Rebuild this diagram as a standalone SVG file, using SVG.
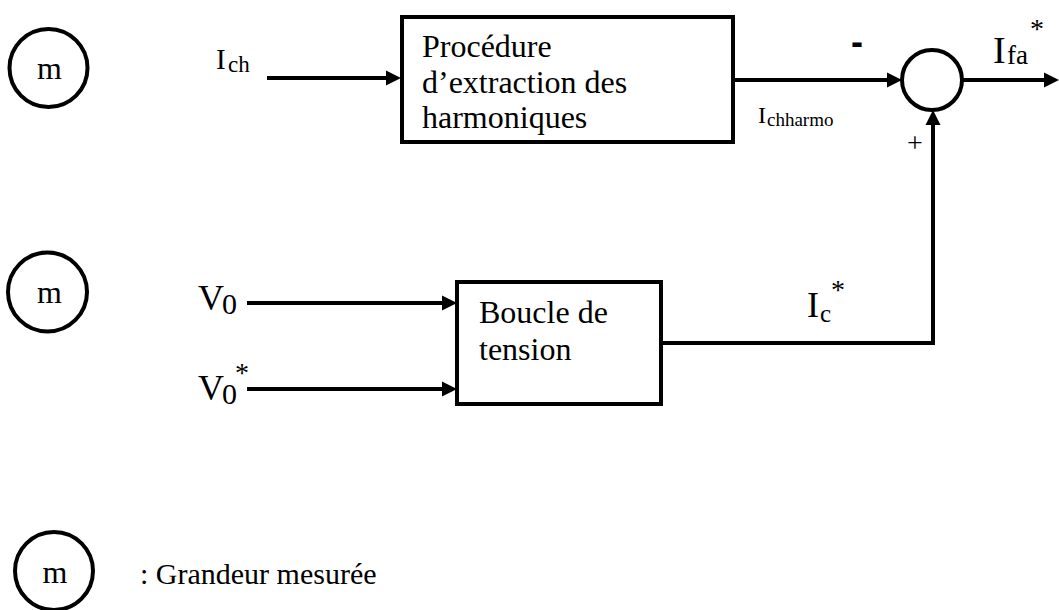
<svg xmlns="http://www.w3.org/2000/svg" width="1059" height="610" viewBox="0 0 1059 610">
  <style>
    .box { fill: #fff; stroke: #000; stroke-width: 4; }
    .ring { fill: none; stroke: #000; stroke-width: 4; }
    .wire { fill: none; stroke: #000; stroke-width: 4; }
  </style>
  <defs>
    <marker id="arrow" markerUnits="userSpaceOnUse" markerWidth="16" markerHeight="16" refX="11" refY="8" orient="auto">
      <path d="M0,0.5 L15,8 L0,15.5 z" fill="#000"/>
    </marker>
  </defs>

  <rect width="1059" height="610" fill="#fff"/>

  <g font-family="'Liberation Serif', 'Times New Roman', Times, serif" fill="#000">
    <!-- measured-quantity markers -->
    <g id="measure-1">
      <circle class="ring" cx="48.5" cy="68" r="39"/>
      <text x="49.5" y="79" font-size="32" text-anchor="middle">m</text>
    </g>
    <g id="measure-2">
      <circle class="ring" cx="47.5" cy="292" r="39.5"/>
      <text x="49.5" y="303" font-size="32" text-anchor="middle">m</text>
    </g>

    <!-- connectors -->
    <g id="connectors">
      <line class="wire" x1="267" y1="78" x2="397" y2="78" marker-end="url(#arrow)"/>
      <line class="wire" x1="733" y1="80" x2="898" y2="80" marker-end="url(#arrow)"/>
      <line class="wire" x1="962" y1="80" x2="1055" y2="80" marker-end="url(#arrow)"/>
      <polyline class="wire" points="661,343 933,343 933,114" marker-end="url(#arrow)"/>
      <line class="wire" x1="247" y1="303" x2="453" y2="303" marker-end="url(#arrow)"/>
      <line class="wire" x1="247" y1="389" x2="453" y2="389" marker-end="url(#arrow)"/>
    </g>

    <!-- harmonic extraction block -->
    <g id="extraction">
      <rect class="box" x="402" y="17" width="331" height="125"/>
      <text font-size="32">
        <tspan x="422" y="57">Procédure</tspan>
        <tspan x="422" y="93">d’extraction des</tspan>
        <tspan x="422" y="128">harmoniques</tspan>
      </text>
    </g>

    <!-- voltage loop block -->
    <g id="voltage-loop">
      <rect class="box" x="457" y="282" width="204" height="122"/>
      <text font-size="32">
        <tspan x="479" y="323">Boucle de</tspan>
        <tspan x="479" y="360">tension</tspan>
      </text>
    </g>

    <!-- summing junction -->
    <g id="sum">
      <circle class="ring" cx="932" cy="80" r="30"/>
      <text x="851" y="54" font-family="'Liberation Sans', Arial, sans-serif" font-weight="bold" font-size="36">-</text>
      <text x="915" y="152" font-size="28" text-anchor="middle">+</text>
    </g>

    <!-- signal labels -->
    <g id="labels">
      <text><tspan x="216" y="69" font-size="29">I</tspan><tspan x="228" y="72" font-size="23">ch</tspan></text>
      <text><tspan x="758" y="123" font-size="24">I</tspan><tspan x="767" y="126" font-size="19">chharmo</tspan></text>
      <text><tspan x="993" y="63" font-size="38">I</tspan><tspan x="1007" y="64" font-size="27">fa</tspan><tspan x="1030" y="38" font-size="28">*</tspan></text>
      <text><tspan x="807" y="317" font-size="36">I</tspan><tspan x="820" y="322" font-size="25">c</tspan><tspan x="831" y="299" font-size="28">*</tspan></text>
      <text><tspan x="198" y="310" font-size="36">V</tspan><tspan x="222" y="314" font-size="30">0</tspan></text>
      <text><tspan x="198" y="400" font-size="36">V</tspan><tspan x="222" y="404" font-size="30">0</tspan><tspan x="235" y="382" font-size="28">*</tspan></text>
    </g>

    <!-- legend -->
    <g id="legend">
      <circle class="ring" cx="54" cy="571" r="39"/>
      <text x="55" y="583" font-size="32" text-anchor="middle">m</text>
      <text x="140" y="584" font-size="30">: Grandeur mesurée</text>
    </g>
  </g>
</svg>
